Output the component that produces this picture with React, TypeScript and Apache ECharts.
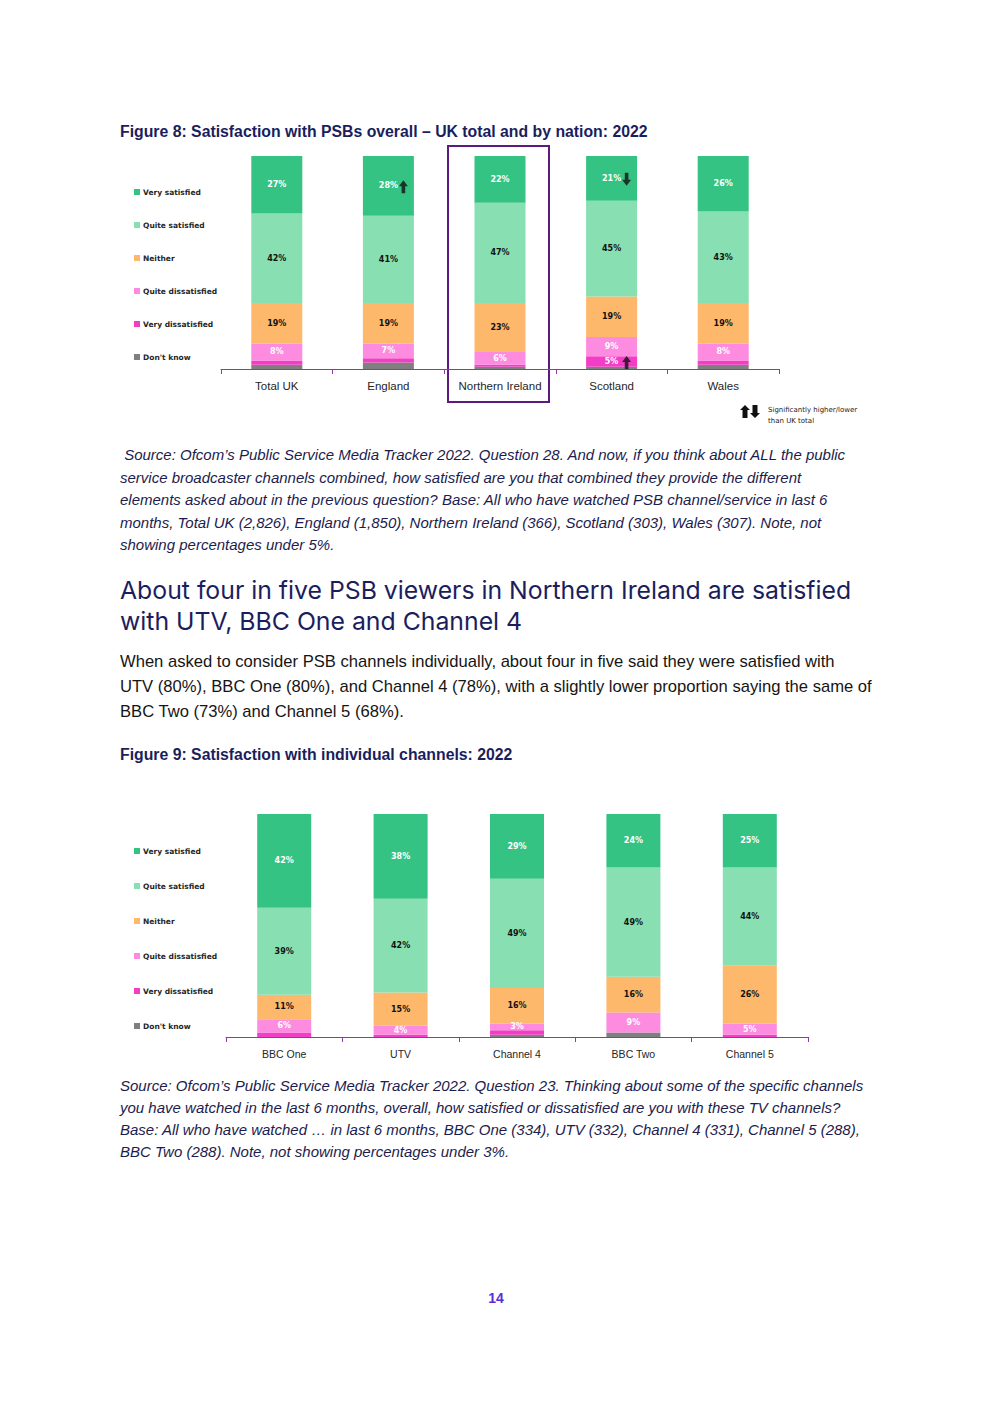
import React, { useEffect, useRef } from "react";
import * as echarts from "echarts";

// ---------- DATA ----------
const nations = ["Total UK", "England", "Northern Ireland", "Scotland", "Wales"];
const channels = ["BBC One", "UTV", "Channel 4", "BBC Two", "Channel 5"];
const levels = ["Very satisfied", "Quite satisfied", "Neither", "Quite dissatisfied", "Very dissatisfied", "Don't know"];

const nVerySatisfied = [27, 28, 22, 21, 26];
const nQuiteSatisfied = [42, 41, 47, 45, 43];
const nNeither = [19, 19, 23, 19, 19];
const nQuiteDissatisfied = [8, 7, 6, 9, 8];
const nVeryDissatisfied = [2, 2, 1, 5, 2];
const nDontKnow = [2, 3, 1, 1, 2];

const cVerySatisfied = [42, 38, 29, 24, 25];
const cQuiteSatisfied = [39, 42, 49, 49, 44];
const cNeither = [11, 15, 16, 16, 26];
const cQuiteDissatisfied = [6, 4, 3, 9, 5];
const cVeryDissatisfied = [2, 1, 2, 0, 1];
const cDontKnow = [0, 0, 1, 2, 0];

const sigMarks = [
  { category: "England", level: "Very satisfied", dir: "up" },
  { category: "Scotland", level: "Very satisfied", dir: "down" },
  { category: "Scotland", level: "Very dissatisfied", dir: "up" },
];

const fig8Title = "Figure 8: Satisfaction with PSBs overall \u2013 UK total and by nation: 2022";
const fig9Title = "Figure 9: Satisfaction with individual channels: 2022";
const source1 = [
  " Source: Ofcom\u2019s Public Service Media Tracker 2022. Question 28. And now, if you think about ALL the public",
  "service broadcaster channels combined, how satisfied are you that combined they provide the different",
  "elements asked about in the previous question? Base: All who have watched PSB channel/service in last 6",
  "months, Total UK (2,826), England (1,850), Northern Ireland (366), Scotland (303), Wales (307). Note, not",
  "showing percentages under 5%.",
];
const heading = [
  "About four in five PSB viewers in Northern Ireland are satisfied",
  "with UTV, BBC One and Channel 4",
];
const paragraph = [
  "When asked to consider PSB channels individually, about four in five said they were satisfied with",
  "UTV (80%), BBC One (80%), and Channel 4 (78%), with a slightly lower proportion saying the same of",
  "BBC Two (73%) and Channel 5 (68%).",
];
const source2 = [
  "Source: Ofcom\u2019s Public Service Media Tracker 2022. Question 23. Thinking about some of the specific channels",
  "you have watched in the last 6 months, overall, how satisfied or dissatisfied are you with these TV channels?",
  "Base: All who have watched \u2026 in last 6 months, BBC One (334), UTV (332), Channel 4 (331), Channel 5 (288),",
  "BBC Two (288). Note, not showing percentages under 3%.",
];
const sigLegend = ["Significantly higher/lower", "than UK total"];
const pageNumber = "14";

// ---------- STYLE ----------
const levelColors = ["#35C383", "#87DFB2", "#FDB86B", "#FD8BE0", "#F33DC6", "#7F7F7F"];
const labelColors = ["#ffffff", "#111111", "#111111", "#ffffff", "#ffffff", "#ffffff"];
const AXIS = "#9B30B8";
const NAVY = "#1B1E5C";
const UP = "path://M5,0L10,6L7,6L7,13L3,13L3,6L0,6Z";
const DOWN = "path://M3,0L7,0L7,7L10,7L5,13L0,7L3,7Z";

const nationData = [nVerySatisfied, nQuiteSatisfied, nNeither, nQuiteDissatisfied, nVeryDissatisfied, nDontKnow];
const channelData = [cVerySatisfied, cQuiteSatisfied, cNeither, cQuiteDissatisfied, cVeryDissatisfied, cDontKnow];

function buildSeries(data: number[][], idx: number, threshold: number) {
  const out: any[] = [];
  for (let li = levels.length - 1; li >= 0; li--) {
    out.push({
      name: levels[li],
      type: "bar",
      xAxisIndex: idx,
      yAxisIndex: idx,
      stack: "s" + idx,
      barWidth: idx === 0 ? 51 : 54,
      itemStyle: { color: levelColors[li] },
      label: {
        show: true,
        position: "inside",
        color: labelColors[li],
        fontSize: 8,
        fontWeight: "bold",
        fontFamily: "DejaVu Sans",
        formatter: (p: any) => (p.value >= threshold ? p.value + "%" : ""),
      },
      data: data[li],
    });
  }
  return out;
}

function txt(x: number, y: number, text: string, font: string, fill: string, align = "left") {
  return {
    type: "text",
    x,
    y,
    silent: true,
    style: { text, font, fill, align, verticalAlign: "middle" },
  };
}

export default function App() {
  const ref = useRef<HTMLDivElement>(null);
  useEffect(() => {
    if (!ref.current) return;
    const chart = echarts.init(ref.current, undefined, { renderer: "svg" });

    const sigData = sigMarks.map((m) => {
      const ci = nations.indexOf(m.category);
      const li = levels.indexOf(m.level);
      let below = 0;
      for (let k = li + 1; k < levels.length; k++) below += nationData[k][ci];
      return {
        value: [m.category, below + nationData[li][ci] / 2],
        symbol: m.dir === "up" ? UP : DOWN,
      };
    });

    const bodyFont = "'Liberation Sans', Arial, sans-serif";
    const graphics: any[] = [];
    graphics.push(txt(120, 131, fig8Title, `bold 15.8px ${bodyFont}`, NAVY));
    source1.forEach((l, i) => graphics.push(txt(120, [454, 477, 499, 522, 544][i], l, `italic 15px ${bodyFont}`, "#1C1C4E")));
    heading.forEach((l, i) => graphics.push(txt(120, [590, 621][i], l, `24.8px Inter, sans-serif`, NAVY)));
    paragraph.forEach((l, i) => graphics.push(txt(120, [661, 686, 711][i], l, `16.6px ${bodyFont}`, "#151515")));
    graphics.push(txt(120, 754, fig9Title, `bold 15.8px ${bodyFont}`, NAVY));
    source2.forEach((l, i) => graphics.push(txt(120, [1085, 1107, 1129, 1151][i], l, `italic 15px ${bodyFont}`, "#1C1C4E")));
    graphics.push(txt(496, 1298, pageNumber, `bold 14px ${bodyFont}`, "#5A2BD6", "center"));
    graphics.push(txt(768, 410, sigLegend[0], `7px 'DejaVu Sans', sans-serif`, "#222"));
    graphics.push(txt(768, 421, sigLegend[1], `7px 'DejaVu Sans', sans-serif`, "#222"));
    graphics.push({
      type: "polygon",
      silent: true,
      shape: { points: [[745, 405], [750, 410], [747.5, 410], [747.5, 418], [742.5, 418], [742.5, 410], [740, 410]] },
      style: { fill: "#111" },
    });
    graphics.push({
      type: "polygon",
      silent: true,
      shape: { points: [[752.5, 405], [757.5, 405], [757.5, 413], [760, 413], [755, 418], [750, 413], [752.5, 413]] },
      style: { fill: "#111" },
    });
    graphics.push({
      type: "rect",
      silent: true,
      shape: { x: 448, y: 146, width: 101, height: 256 },
      style: { fill: "none", stroke: "#5B1A7E", lineWidth: 2 },
    });

    const legendBase = {
      orient: "vertical",
      icon: "rect",
      itemWidth: 6,
      itemHeight: 6,
      selectedMode: false,
      data: levels,
      textStyle: { fontSize: 7.5, fontWeight: "bold", color: "#262626", fontFamily: "DejaVu Sans", padding: [0, 0, 0, -2] },
    };

    const xAxisBase = (data: string[], gi: number, fs: number) => ({
      type: "category",
      gridIndex: gi,
      data,
      axisLine: { lineStyle: { color: AXIS, width: 1 } },
      axisTick: { show: true, length: 5, lineStyle: { color: AXIS } },
      axisLabel: { fontSize: fs, color: "#262626", margin: 11, fontFamily: bodyFont },
    });

    chart.setOption({
      animation: false,
      backgroundColor: "#ffffff",
      grid: [
        { left: 221, width: 558, top: 156, height: 213 },
        { left: 226, width: 582, top: 814, height: 223 },
      ],
      legend: [
        { ...legendBase, left: 129, top: 183, itemGap: 25 },
        { ...legendBase, left: 129, top: 842, itemGap: 27 },
      ],
      xAxis: [xAxisBase(nations, 0, 11.5), xAxisBase(channels, 1, 10.5)],
      yAxis: [
        { type: "value", gridIndex: 0, min: 0, max: 100, show: false },
        { type: "value", gridIndex: 1, min: 0, max: 100, show: false },
      ],
      series: [
        ...buildSeries(nationData, 0, 5),
        ...buildSeries(channelData, 1, 3),
        {
          type: "scatter",
          xAxisIndex: 0,
          yAxisIndex: 0,
          symbolSize: [9, 13],
          symbolOffset: [15, 1],
          itemStyle: { color: "#111" },
          z: 5,
          silent: true,
          data: sigData,
        },
      ],
      graphic: graphics,
    });
    return () => chart.dispose();
  }, []);
  return (
    <div
      ref={ref}
      style={{ position: "absolute", left: 0, top: 0, width: 992, height: 1403, background: "#fff" }}
    />
  );
}
